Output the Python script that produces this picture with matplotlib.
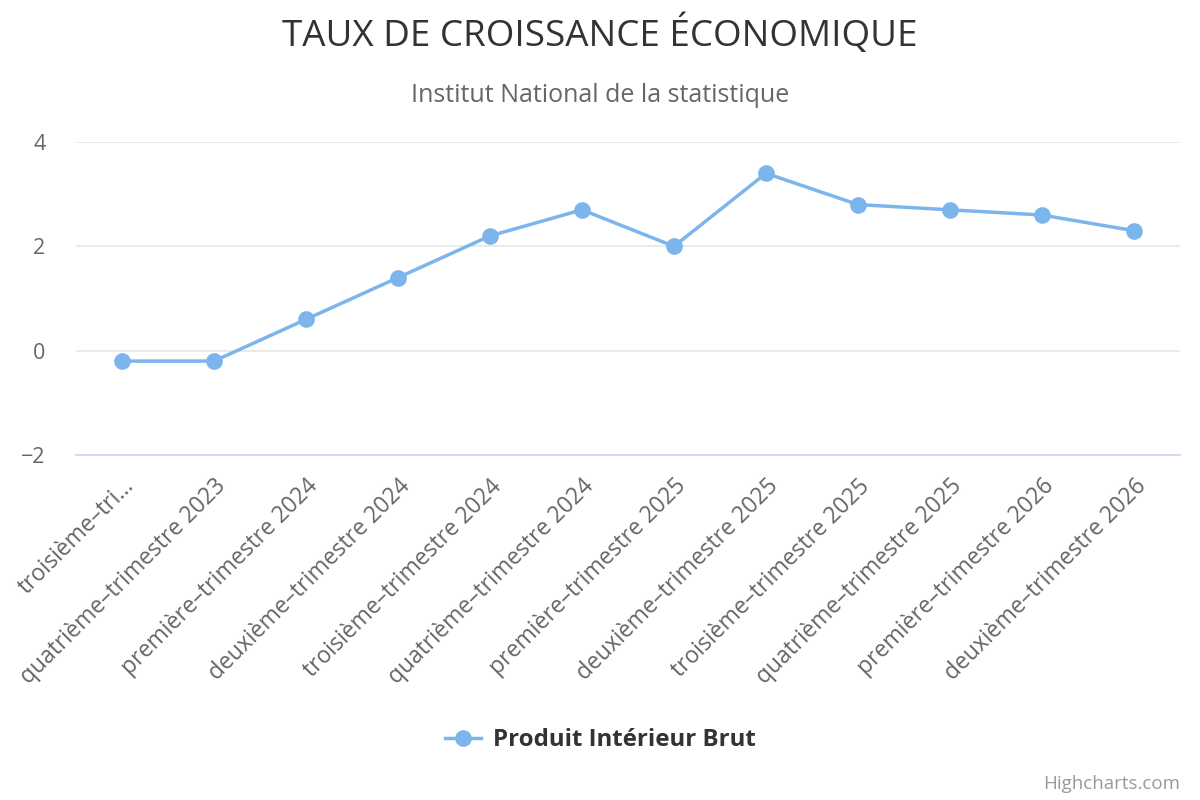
import matplotlib
matplotlib.use("Agg")
import matplotlib.pyplot as plt
from matplotlib.lines import Line2D

plt.rcParams['font.family'] = ['Open Sans', 'DejaVu Sans']

categories = [
    "troisième–tri…",
    "quatrième–trimestre 2023",
    "première–trimestre 2024",
    "deuxième–trimestre 2024",
    "troisième–trimestre 2024",
    "quatrième–trimestre 2024",
    "première–trimestre 2025",
    "deuxième–trimestre 2025",
    "troisième–trimestre 2025",
    "quatrième–trimestre 2025",
    "première–trimestre 2026",
    "deuxième–trimestre 2026",
]
pib = [-0.2, -0.2, 0.6, 1.4, 2.2, 2.7, 2.0, 3.4, 2.8, 2.7, 2.6, 2.3]
yticks = [-2, 0, 2, 4]

title = "TAUX DE CROISSANCE ÉCONOMIQUE"
subtitle = "Institut National de la statistique"
series_name = "Produit Intérieur Brut"
credits = "Highcharts.com"

color = "#7cb5ec"

fig = plt.figure(figsize=(12, 8), dpi=100)
ax = fig.add_axes([76/1200, 1-455/800, (1180-76)/1200, (455-142)/800])

x = list(range(len(categories)))
ax.plot(x, pib, color=color, linewidth=2.5, marker='o', markersize=12,
        markeredgewidth=0, zorder=3, clip_on=False)

ax.set_xlim(-0.5, len(categories)-0.5)
ax.set_ylim(-2, 4)
ax.set_yticks(yticks)
ax.set_yticklabels([str(v).replace('-', '−') for v in yticks])
ax.yaxis.grid(True, color='#e6e6e6', linewidth=1.2)
ax.set_axisbelow(True)
for s in ['top', 'right', 'left']:
    ax.spines[s].set_visible(False)
ax.spines['bottom'].set_color('#ccd6eb')
ax.spines['bottom'].set_linewidth(1.2)
ax.tick_params(axis='y', length=0, pad=22, labelsize=15.5, labelcolor='#666666')
ax.set_xticks(x)
ax.set_xticklabels(categories, rotation=45, ha='right', rotation_mode='anchor')
ax.tick_params(axis='x', length=0, pad=14, labelsize=16.5, labelcolor='#666666')

fig.text(0.5, 1-35/800, title, ha='center', va='center', fontsize=26.5, color='#333333')
fig.text(0.5, 1-96/800, subtitle, ha='center', va='center', fontsize=18, color='#666666')

handle = Line2D([0], [0], color=color, linewidth=2.5, marker='o', markersize=12, markeredgewidth=0)
leg = fig.legend([handle], [series_name], loc='center', bbox_to_anchor=(0.5, 1-740/800),
                 frameon=False, handlelength=1.5, handletextpad=0.5,
                 prop={'weight': 'bold', 'size': 17.3})
for t in leg.get_texts():
    t.set_color('#333333')

fig.text(1180/1200, 1-784/800, credits, ha='right', va='center', fontsize=13.5, color='#999999')

fig.savefig("out.png", dpi=100)
